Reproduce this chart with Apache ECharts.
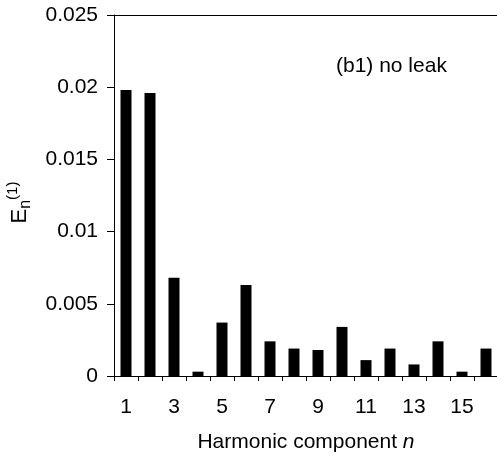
<!DOCTYPE html>
<html>
<head>
<meta charset="utf-8">
<script src="https://cdn.jsdelivr.net/npm/echarts@6/dist/echarts.min.js"></script>
<style>html,body{margin:0;padding:0;background:#fff;}#c{width:497px;height:461px;}</style>
</head>
<body>
<div id="c"></div>
<script>
const categories = ['1','2','3','4','5','6','7','8','9','10','11','12','13','14','15','16'];
const values = [0.0198, 0.0196, 0.0068, 0.0003, 0.0037, 0.0063, 0.0024, 0.0019, 0.0018, 0.0034, 0.0011, 0.0019, 0.0008, 0.0024, 0.0003, 0.0019];
const yTicks = [0, 0.005, 0.01, 0.015, 0.02, 0.025];

const font = 'Liberation Sans, Arial, sans-serif';
const chart = echarts.init(document.getElementById('c'));
chart.setOption({
  animation: false,
  backgroundColor: '#fff',
  grid: { left: 114, top: 15, width: 384, height: 361, containLabel: false, outerBoundsMode: 'none' },
  xAxis: [{
    type: 'category',
    data: categories,
    boundaryGap: true,
    axisLine: { lineStyle: { color: '#000', width: 1 } },
    axisTick: { show: true, interval: 0, length: 5, lineStyle: { color: '#000' } },
    axisLabel: { interval: 1, color: '#000', fontSize: 21, fontFamily: font, margin: 21 },
    name: '{a|Harmonic component }{b|n}',
    nameLocation: 'middle',
    nameGap: 56,
    nameTextStyle: {
      rich: {
        a: { fontSize: 21, fontFamily: font, color: '#000' },
        b: { fontSize: 21, fontFamily: font, color: '#000', fontStyle: 'italic' }
      }
    }
  }, {
    type: 'category',
    data: categories,
    position: 'top',
    axisLine: { show: true, lineStyle: { color: '#000', width: 1 } },
    axisTick: { show: false },
    axisLabel: { show: false }
  }],
  yAxis: {
    type: 'value',
    min: yTicks[0],
    max: yTicks[yTicks.length - 1],
    interval: 0.005,
    splitLine: { show: false },
    axisLine: { show: true, lineStyle: { color: '#000', width: 1 } },
    axisTick: { show: true, length: 7, inside: false, lineStyle: { color: '#000' } },
    axisLabel: {
      color: '#000', fontSize: 21, fontFamily: font, margin: 16,
      formatter: function (v) { return String(+v.toFixed(3)); }
    },
    name: '{e|E}{n|n}{s|(1)}',
    nameLocation: 'middle',
    nameRotate: 90,
    nameGap: 76,
    nameTextStyle: {
      padding: [0, 14, 0, 0],
      rich: {
        e: { fontSize: 22, fontFamily: font, color: '#000', lineHeight: 30, verticalAlign: 'middle' },
        n: { fontSize: 16, fontFamily: font, color: '#000', lineHeight: 30, verticalAlign: 'bottom', padding: [0, 0, 1, 0] },
        s: { fontSize: 15, fontFamily: font, color: '#000', lineHeight: 30, verticalAlign: 'top', padding: [1, 0, 0, 0] }
      }
    }
  },
  series: [{
    type: 'bar',
    data: values,
    barWidth: 11,
    itemStyle: { color: '#000' }
  }],
  graphic: [{
    type: 'text',
    left: 336,
    top: 56,
    style: { text: '(b1) no leak', fontSize: 21, fontFamily: font, fill: '#000' }
  }]
});
</script>
</body>
</html>
